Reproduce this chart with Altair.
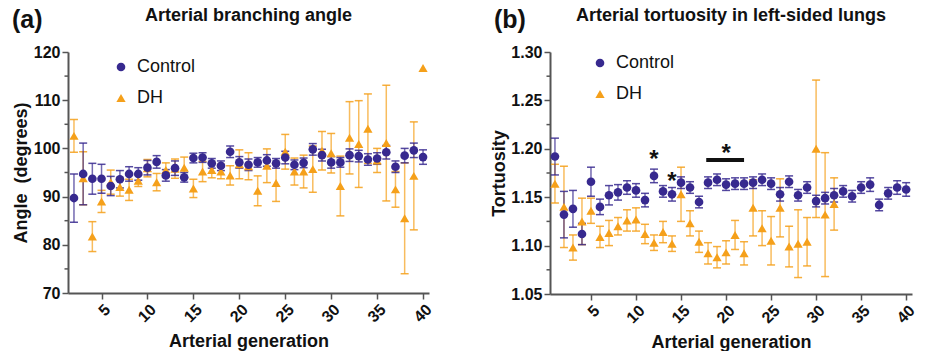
import altair as alt
import pandas as pd

FONT = "Liberation Sans"
C_CTRL = "#37298f"
C_DH = "#f5a01a"
AX = "#555555"

# ---------------- Panel (a): branching angle ----------------
gen_a = list(range(2, 41))
ctrl_a_mean = [89.7, 94.7, 93.7, 93.7, 92.2, 93.6, 94.7, 94.7, 96.0, 97.2,
               94.4, 95.9, 94.0, 98.0, 98.1, 96.9, 96.4, 99.3, 97.1, 96.6,
               97.1, 97.5, 96.9, 98.1, 96.6, 97.0, 99.8, 98.6, 97.1, 97.1,
               98.6, 98.4, 97.7, 97.9, 99.2, 96.2, 98.5, 99.6, 98.2]
ctrl_a_err = [5.0, 6.4, 3.2, 3.0, 2.0, 1.8, 1.5, 1.3, 1.5, 1.3,
              1.2, 1.5, 1.0, 1.0, 1.0, 1.0, 1.0, 1.2, 1.2, 1.2,
              1.0, 1.2, 1.0, 1.3, 1.0, 1.0, 1.2, 1.2, 1.2, 1.0,
              1.3, 1.2, 1.2, 1.2, 1.4, 1.2, 1.5, 1.5, 1.5]
dh_a_mean = [102.6, 93.8, 81.7, 89.0, 93.0, 92.0, 91.4, 93.3, 95.9, 93.0,
             95.5, 95.8, 96.0, 91.7, 95.2, 95.5, 95.2, 94.4, 96.7, 96.3,
             91.2, 96.4, 92.8, 99.3, 95.2, 95.2, 95.7, 99.5, 99.0, 92.2,
             102.2, 100.9, 104.1, 97.5, 101.1, 91.5, 85.5, 94.3, 116.7]
dh_a_err = [3.4, 5.5, 3.1, 2.3, 2.5, 1.9, 2.2, 1.2, 1.8, 1.8,
            1.5, 2.0, 2.2, 1.9, 2.1, 1.6, 1.5, 2.0, 3.0, 2.8,
            3.1, 3.5, 3.8, 3.6, 2.8, 3.4, 4.8, 4.0, 4.1, 6.2,
            7.5, 9.0, 7.2, 2.5, 12.0, 3.7, 11.5, 11.2, 0.0]

# ---------------- Panel (b): tortuosity ----------------
gen_b_ctrl = list(range(1, 41))
ctrl_b_mean = [1.192, 1.132, 1.138, 1.112, 1.166, 1.140, 1.152, 1.155, 1.160, 1.157,
               1.147, 1.172, 1.156, 1.153, 1.165, 1.160, 1.145, 1.165, 1.168, 1.163,
               1.164, 1.164, 1.165, 1.168, 1.164, 1.153, 1.166, 1.152, 1.160, 1.146,
               1.149, 1.152, 1.156, 1.151, 1.160, 1.163, 1.142, 1.154, 1.160, 1.158]
ctrl_b_err = [0.019, 0.024, 0.019, 0.011, 0.015, 0.008, 0.010, 0.008, 0.007, 0.007,
              0.007, 0.007, 0.006, 0.007, 0.006, 0.006, 0.006, 0.006, 0.006, 0.006,
              0.006, 0.006, 0.006, 0.006, 0.006, 0.007, 0.006, 0.006, 0.006, 0.006,
              0.006, 0.007, 0.006, 0.006, 0.006, 0.007, 0.006, 0.006, 0.007, 0.007]
gen_b_dh = list(range(1, 33))
dh_b_mean = [1.164, 1.140, 1.098, 1.125, 1.136, 1.109, 1.113, 1.120, 1.126, 1.127,
             1.112, 1.103, 1.114, 1.102, 1.153, 1.123, 1.104, 1.092, 1.088, 1.093,
             1.111, 1.092, 1.139, 1.118, 1.105, 1.139, 1.099, 1.102, 1.104, 1.200,
             1.132, 1.143]
dh_b_err = [0.020, 0.042, 0.013, 0.024, 0.013, 0.011, 0.013, 0.009, 0.011, 0.012,
            0.010, 0.008, 0.011, 0.008, 0.028, 0.013, 0.011, 0.011, 0.011, 0.012,
            0.015, 0.012, 0.029, 0.018, 0.025, 0.030, 0.021, 0.035, 0.025, 0.071,
            0.064, 0.027]

# significance annotations (panel b)
star_gen = [12, 14, 20]
star_val = [1.1935, 1.171, 1.1997]
bar_gen = [17.8]
bar_gen2 = [22.0]
bar_val = [1.1884]

x_ticks = [5, 10, 15, 20, 25, 30, 35, 40]
y_ticks_a = [70, 80, 90, 100, 110, 120]
y_minor_a = [75, 85, 95, 105, 115]
y_ticks_b = [1.05, 1.10, 1.15, 1.20, 1.25, 1.30]
y_minor_b = [1.075, 1.125, 1.175, 1.225, 1.275]


def frame(gens, means, errs, group):
    return pd.DataFrame({
        "gen": gens, "mean": means,
        "lo": [m - e for m, e in zip(means, errs)],
        "hi": [m + e for m, e in zip(means, errs)],
        "group": group,
    })


def panel(df_c, df_d, xdom, ydom, yticks, yminor, yfmt, ytitle, title,
          label, legx, legy, w, h, ytp, extra=None):
    xs = alt.Scale(domain=xdom, nice=False, zero=False)
    ys = alt.Scale(domain=ydom, nice=False, zero=False)
    xax = alt.Axis(values=x_ticks, labelAngle=-45, title="Arterial generation",
                   minExtent=30, maxExtent=30, titlePadding=9)
    yax = alt.Axis(values=yticks, format=yfmt, title=ytitle,
                   minExtent=36, maxExtent=36, titlePadding=ytp)
    X = alt.X("gen:Q", scale=xs, axis=xax)

    def bars(df, color):
        base = alt.Chart(df).transform_filter("datum.hi > datum.lo")
        rule = base.mark_rule(color=color, strokeWidth=1.5, opacity=0.7).encode(
            x=X, y=alt.Y("lo:Q", scale=ys, axis=yax), y2="hi:Q")
        cap_lo = base.mark_tick(color=color, orient="horizontal", size=8,
                                thickness=1.5, opacity=0.85).encode(
            x=X, y=alt.Y("lo:Q", scale=ys, axis=yax))
        cap_hi = base.mark_tick(color=color, orient="horizontal", size=8,
                                thickness=1.5, opacity=0.85).encode(
            x=X, y=alt.Y("hi:Q", scale=ys, axis=yax))
        return [rule, cap_lo, cap_hi]

    pts_df = pd.concat([df_d, df_c], ignore_index=True)
    legend = alt.Legend(orient="none", legendX=legx, legendY=legy, title=None,
                        labelFontSize=18, labelFont=FONT, labelFontWeight="normal",
                        labelColor="#111111", symbolSize=75, rowPadding=13,
                        labelOffset=7, padding=0, symbolStrokeWidth=0)
    pts = alt.Chart(pts_df).mark_point(filled=True, opacity=1).encode(
        x=X, y=alt.Y("mean:Q", scale=ys, axis=yax),
        color=alt.Color("group:N", scale=alt.Scale(domain=["Control", "DH"],
                                                   range=[C_CTRL, C_DH]), legend=legend),
        shape=alt.Shape("group:N", scale=alt.Scale(domain=["Control", "DH"],
                                                   range=["circle", "triangle-up"]),
                        legend=legend),
        size=alt.Size("group:N", scale=alt.Scale(domain=["Control", "DH"], range=[75, 85]),
                      legend=None),
        order=alt.Order("order:Q"),
    ).transform_calculate(order="datum.group == 'DH' ? 0 : 1")

    minor = alt.Chart(pd.DataFrame({"v": yminor})).mark_rule(
        color=AX, strokeWidth=1.5).encode(
        y=alt.Y("v:Q", scale=ys, axis=yax), x=alt.value(-3.5), x2=alt.value(0))

    lab = alt.Chart(pd.DataFrame({"t": [label]})).mark_text(
        font=FONT, fontSize=25, fontWeight="bold", color="#111111",
        align="left", baseline="middle").encode(
        text="t:N", x=alt.value(-56), y=alt.value(-32))

    ttl = alt.Chart(pd.DataFrame({"t": [title]})).mark_text(
        font=FONT, fontSize=18, fontWeight="bold", color="#111111",
        align="center", baseline="middle").encode(
        text="t:N", x=alt.value(w / 2), y=alt.value(-36))

    layers = bars(df_d, C_DH) + bars(df_c, C_CTRL) + [pts, minor, lab, ttl]
    if extra is not None:
        layers += extra(X, ys, yax)
    return alt.layer(*layers).properties(width=w, height=h)


def extra_b(X, ys, yax):
    stars = alt.Chart(pd.DataFrame({"gen": star_gen, "v": star_val, "t": ["*"] * 3})).mark_text(
        font=FONT, fontSize=24, fontWeight="bold", color="#111111", baseline="middle",
        dy=5).encode(x=X, y=alt.Y("v:Q", scale=ys, axis=yax), text="t:N")
    bar = alt.Chart(pd.DataFrame({"g1": bar_gen, "g2": bar_gen2, "v": bar_val})).mark_rule(
        color="#111111", strokeWidth=4).encode(
        x=alt.X("g1:Q", scale=alt.Scale(domain=[0.45, 40.65], nice=False, zero=False),
                axis=alt.Axis(values=x_ticks, labelAngle=-45, title="Arterial generation",
                              minExtent=30, maxExtent=30, titlePadding=9)),
        x2="g2:Q", y=alt.Y("v:Q", scale=ys, axis=yax))
    return [bar, stars]


ca = frame(gen_a, ctrl_a_mean, ctrl_a_err, "Control")
da = frame(gen_a, dh_a_mean, dh_a_err, "DH")
cb = frame(gen_b_ctrl, ctrl_b_mean, ctrl_b_err, "Control")
db = frame(gen_b_dh, dh_b_mean, dh_b_err, "DH")

A = panel(ca, da, [1.35, 40.65], [70, 120], y_ticks_a, y_minor_a, "d",
          "Angle\u00a0 (degrees)", "Arterial branching angle", "(a)", 44, 6, 361, 241, 2)
B = panel(cb, db, [0.45, 40.65], [1.05, 1.30], y_ticks_b, y_minor_b, ".2f",
          "Tortuosity", "Arterial tortuosity in left-sided lungs", "(b)", 41, 2, 362, 242, 6,
          extra=extra_b)

chart = alt.hconcat(A, B, spacing=55).resolve_scale(
    color="independent", shape="independent", size="independent",
    x="independent", y="independent"
).resolve_legend(color="independent", shape="independent").properties(
    padding={"left": 12, "top": 7, "right": 0, "bottom": 0}
).configure_view(stroke=None).configure_axis(
    grid=False, domainColor=AX, domainWidth=2, tickColor=AX, tickWidth=1.5, tickSize=6,
    labelFont=FONT, labelFontSize=16, labelFontWeight="bold", labelColor="#111111",
    labelPadding=2, titleFont=FONT, titleFontSize=18, titleFontWeight="bold",
    titleColor="#111111"
)

chart.save("out.html", embed_options={"renderer": "svg", "actions": False})
